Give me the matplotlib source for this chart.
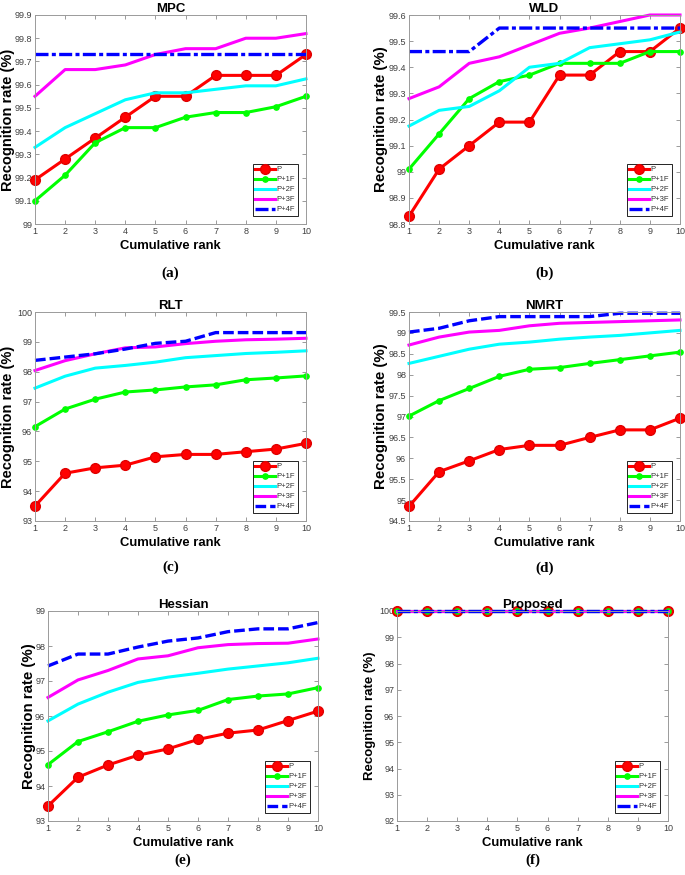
import matplotlib
matplotlib.use("Agg")
import matplotlib.pyplot as plt

ranks = [1, 2, 3, 4, 5, 6, 7, 8, 9, 10]
series_names = ["P", "P+1F", "P+2F", "P+3F", "P+4F"]

mpc_p = [99.19, 99.28, 99.37, 99.46, 99.55, 99.55, 99.64, 99.64, 99.64, 99.73]
mpc_1f = [99.10, 99.21, 99.35, 99.415, 99.415, 99.46, 99.48, 99.48, 99.505, 99.55]
mpc_2f = [99.33, 99.415, 99.475, 99.535, 99.565, 99.565, 99.58, 99.595, 99.595, 99.625]
mpc_3f = [99.55, 99.665, 99.665, 99.685, 99.73, 99.755, 99.755, 99.80, 99.80, 99.82]
mpc_4f = [99.73, 99.73, 99.73, 99.73, 99.73, 99.73, 99.73, 99.73, 99.73, 99.73]

wld_p = [98.83, 99.01, 99.10, 99.19, 99.19, 99.37, 99.37, 99.46, 99.46, 99.55]
wld_1f = [99.01, 99.145, 99.28, 99.345, 99.37, 99.415, 99.415, 99.415, 99.46, 99.46]
wld_2f = [99.175, 99.235, 99.25, 99.31, 99.40, 99.415, 99.475, 99.49, 99.505, 99.535]
wld_3f = [99.28, 99.325, 99.415, 99.44, 99.485, 99.53, 99.55, 99.575, 99.60, 99.60]
wld_4f = [99.46, 99.46, 99.46, 99.55, 99.55, 99.55, 99.55, 99.55, 99.55, 99.55]

rlt_p = [93.50, 94.60, 94.78, 94.87, 95.15, 95.23, 95.23, 95.32, 95.41, 95.60]
rlt_1f = [96.16, 96.75, 97.08, 97.32, 97.39, 97.49, 97.56, 97.73, 97.79, 97.86]
rlt_2f = [97.45, 97.85, 98.12, 98.21, 98.32, 98.47, 98.54, 98.61, 98.65, 98.70]
rlt_3f = [98.04, 98.37, 98.60, 98.80, 98.83, 98.94, 99.02, 99.07, 99.09, 99.12]
rlt_4f = [98.38, 98.49, 98.60, 98.76, 98.95, 99.02, 99.31, 99.31, 99.31, 99.31]

nmrt_p = [94.85, 95.68, 95.94, 96.21, 96.31, 96.31, 96.50, 96.68, 96.68, 96.96]
nmrt_1f = [97.01, 97.38, 97.67, 97.96, 98.13, 98.17, 98.27, 98.36, 98.45, 98.54]
nmrt_2f = [98.27, 98.44, 98.61, 98.73, 98.78, 98.85, 98.90, 98.94, 99.00, 99.06]
nmrt_3f = [98.71, 98.90, 99.02, 99.06, 99.17, 99.23, 99.25, 99.27, 99.29, 99.31]
nmrt_4f = [99.02, 99.11, 99.29, 99.39, 99.39, 99.39, 99.39, 99.47, 99.47, 99.47]

hes_p = [93.43, 94.25, 94.60, 94.88, 95.06, 95.33, 95.51, 95.60, 95.87, 96.14]
hes_1f = [94.61, 95.27, 95.55, 95.85, 96.03, 96.16, 96.47, 96.57, 96.63, 96.81]
hes_2f = [95.86, 96.34, 96.68, 96.96, 97.11, 97.22, 97.34, 97.43, 97.52, 97.65]
hes_3f = [96.53, 97.03, 97.30, 97.63, 97.72, 97.95, 98.04, 98.07, 98.08, 98.20]
hes_4f = [97.43, 97.77, 97.77, 97.97, 98.14, 98.23, 98.41, 98.49, 98.49, 98.67]

prop_p = [100, 100, 100, 100, 100, 100, 100, 100, 100, 100]
prop_1f = [100, 100, 100, 100, 100, 100, 100, 100, 100, 100]
prop_2f = [100, 100, 100, 100, 100, 100, 100, 100, 100, 100]
prop_3f = [100, 100, 100, 100, 100, 100, 100, 100, 100, 100]
prop_4f = [100, 100, 100, 100, 100, 100, 100, 100, 100, 100]

dashdot = (0, (3.9, 1.0, 1.2, 1.0))
dashed = (0, (3.2, 1.2))

panels = [
    ("MPC", "(a)", [mpc_p, mpc_1f, mpc_2f, mpc_3f, mpc_4f], [99 + 0.1 * i for i in range(10)], dashdot),
    ("WLD", "(b)", [wld_p, wld_1f, wld_2f, wld_3f, wld_4f], [98.8 + 0.1 * i for i in range(9)], dashdot),
    ("RLT", "(c)", [rlt_p, rlt_1f, rlt_2f, rlt_3f, rlt_4f], list(range(93, 101)), dashed),
    ("NMRT", "(d)", [nmrt_p, nmrt_1f, nmrt_2f, nmrt_3f, nmrt_4f], [94.5 + 0.5 * i for i in range(11)], dashed),
    ("Hessian", "(e)", [hes_p, hes_1f, hes_2f, hes_3f, hes_4f], list(range(93, 100)), dashed),
    ("Proposed", "(f)", [prop_p, prop_1f, prop_2f, prop_3f, prop_4f], list(range(92, 101)), dashdot),
]

# axes boxes in pixels: left, right, top, bottom
boxes = [
    (35, 306, 15, 224), (409, 680, 15, 224),
    (35, 306, 312, 521), (409, 680, 312, 521),
    (48, 318, 611, 821), (397, 668, 611, 821),
]
caption_y = [273, 273, 567, 568, 860, 860]
ylabel_size = [10.5, 10.8, 10.5, 10.8, 10.8, 9.5]
ylabel_x = [8.5, 381, 8.5, 381, 29, 370]

W, H = 685, 875
plt.rcParams["font.family"] = ["Liberation Sans", "DejaVu Sans"]
fig = plt.figure(figsize=(W / 100, H / 100), dpi=100)

colors = ["#ff0000", "#00ff00", "#00ffff", "#ff00ff", "#0000ff"]

for i, (title, cap, data, yticks, blue_ls) in enumerate(panels):
    l, r, t, b = boxes[i]
    ax = fig.add_axes([l / W, 1 - b / H, (r - l) / W, (b - t) / H])
    ax.plot(ranks, data[0], color=colors[0], lw=2.2, marker="o", ms=7,
            mfc=colors[0], mec="#e00000", clip_on=False, label=series_names[0])
    ax.plot(ranks, data[1], color=colors[1], lw=2.2, marker="o", ms=3.8,
            mfc=colors[1], mec=colors[1], clip_on=False, label=series_names[1])
    ax.plot(ranks, data[2], color=colors[2], lw=2.2, clip_on=False, label=series_names[2])
    ax.plot(ranks, data[3], color=colors[3], lw=2.2, clip_on=False, label=series_names[3])
    ax.plot(ranks, data[4], color=colors[4], lw=2.4, ls=blue_ls, clip_on=False, label=series_names[4])

    ax.set_xlim(1, 10)
    ax.set_ylim(yticks[0], yticks[-1])
    ax.set_xticks(ranks)
    ax.set_yticks(yticks)
    ax.set_yticklabels(["%g" % round(v, 1) for v in yticks])
    ax.tick_params(direction="in", length=3, width=0.6, labelsize=6.5,
                   colors="#8a8a8a", labelcolor="#404040", top=True, right=True, pad=2)
    for s in ax.spines.values():
        s.set_color("#9a9a9a")
        s.set_linewidth(0.7)

    ax.set_title(title, fontsize=9.5, fontweight="bold", pad=2)
    ax.set_xlabel("Cumulative rank", fontsize=9.4, fontweight="bold", labelpad=3)
    ax.set_ylabel("Recognition rate (%)", fontsize=ylabel_size[i], fontweight="bold")
    ax.yaxis.set_label_coords((ylabel_x[i] - l) / (r - l), 0.5)
    ax.yaxis.label.set_va("center")

    leg = ax.legend(loc="lower right", fontsize=5.5, handlelength=2.6, handletextpad=0.2,
                    labelspacing=0.35, borderpad=0.3, borderaxespad=1.1,
                    fancybox=False, framealpha=1)
    leg.get_frame().set_edgecolor("black")
    leg.get_frame().set_linewidth(0.6)
    for txt in leg.get_texts():
        txt.set_color("#303030")

    fig.text((l + r) / 2 / W, 1 - caption_y[i] / H, cap, ha="center", va="center",
             fontsize=11, fontweight="bold", family="Liberation Serif")

fig.savefig("out.png", dpi=100)
